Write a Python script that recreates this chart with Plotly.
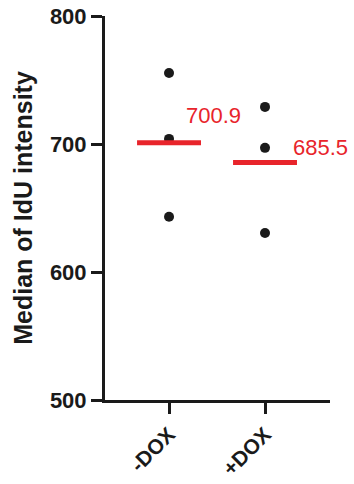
import plotly.graph_objects as go

categories = ["-DOX", "+DOX"]
minus_dox = [755.5, 704.0, 643.2]
plus_dox = [729.0, 697.0, 630.5]
means = [700.9, 685.5]
y_ticks = [500, 600, 700, 800]

series = [minus_dox, plus_dox]
FONT = "Arial, Liberation Sans, sans-serif"

fig = go.Figure()
for i, vals in enumerate(series):
    fig.add_trace(go.Scatter(
        x=[i] * len(vals), y=vals, mode="markers",
        marker=dict(color="#1a1a1a", size=10),
        showlegend=False, cliponaxis=False))
    fig.add_trace(go.Scatter(
        x=[i - 0.333, i + 0.333], y=[means[i], means[i]], mode="lines",
        line=dict(color="#e8242b", width=5),
        showlegend=False, cliponaxis=False))

label_pos = [(0.18, 722), (1.29, 697)]
for i, m in enumerate(means):
    fig.add_annotation(x=label_pos[i][0], y=label_pos[i][1], text=f"{m:.1f}",
                       showarrow=False, xanchor="left", yanchor="middle",
                       xshift=-2,
                       font=dict(family=FONT, size=22, color="#e8242b"))

fig.update_layout(
    width=354, height=484,
    margin=dict(l=105, r=24, t=16, b=84, pad=0, autoexpand=False),
    paper_bgcolor="white", plot_bgcolor="white",
    font=dict(family=FONT, color="#1a1a1a"),
)
fig.update_xaxes(
    range=[-0.667, 1.677], tickvals=[0, 1], ticktext=categories,
    tickangle=-45, showgrid=False, zeroline=False, automargin=False,
    ticklabeloverflow="allow",
    showline=True, linecolor="#1a1a1a", linewidth=3,
    ticks="outside", ticklen=11, tickwidth=3, tickcolor="#1a1a1a",
    tickfont=dict(family=FONT, size=21, color="#1a1a1a", weight="bold"),
)
fig.update_yaxes(
    range=[500, 800.01], tickvals=y_ticks, showgrid=False, zeroline=False,
    automargin=False, ticklabeloverflow="allow",
    showline=True, linecolor="#1a1a1a", linewidth=3,
    ticks="outside", ticklen=11, tickwidth=3, tickcolor="#1a1a1a",
    tickfont=dict(family=FONT, size=22, color="#1a1a1a", weight="bold"),
    title=dict(text="Median of IdU intensity", standoff=11,
               font=dict(family=FONT, size=25, color="#1a1a1a", weight="bold")),
)

fig.write_html("out.html", config={"displayModeBar": False},
               post_script="document.body.style.margin='0';")
